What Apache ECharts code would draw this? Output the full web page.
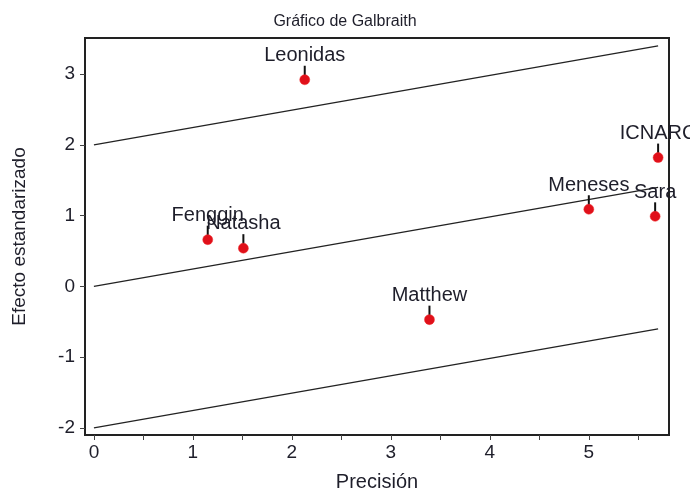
<!DOCTYPE html>
<html><head><meta charset="utf-8">
<script src="https://cdn.jsdelivr.net/npm/echarts@6/dist/echarts.min.js"></script>
<style>html,body{margin:0;padding:0;background:#fff}#c{width:690px;height:488px}</style>
</head><body><div id="c"></div>
<script>
var names = ['Leonidas','Fenggin','Natasha','Matthew','Meneses','Sara','ICNARC'];
var precision = [2.13, 1.15, 1.51, 3.39, 5.00, 5.67, 5.70];
var effect = [2.92, 0.66, 0.54, -0.47, 1.09, 0.99, 1.82];
var lineX = [0, 5.7];
var midLine = [0, 1.4];
var upperLine = [2, 3.4];
var lowerLine = [-2, -0.6];
var xTickLabels = [0, 1, 2, 3, 4, 5];
var xTicks = [0, 0.5, 1, 1.5, 2, 2.5, 3, 3.5, 4, 4.5, 5, 5.5];
var yTickLabels = [-2, -1, 0, 1, 2, 3];

var FONT = 'Liberation Sans, Arial, sans-serif';
var TXT = '#1e1e2a';
var pts = names.map(function(n, i){ return {name: n, value: [precision[i], effect[i]]}; });
function lineData(ys){ return lineX.map(function(x, i){ return [x, ys[i]]; }); }
var lineStyle = {color: '#222', width: 1.3};

var chart = echarts.init(document.getElementById('c'));
chart.setOption({
  animation: false,
  title: {text: 'Gráfico de Galbraith', left: 'center', top: 9,
    textStyle: {fontFamily: FONT, fontSize: 16, fontWeight: 'normal', color: TXT}},
  grid: {left: 85, right: 21, top: 38, bottom: 53, show: true, borderColor: '#222', borderWidth: 2,
    containLabel: false, outerBoundsMode: 'none'},
  xAxis: {type: 'value', min: -0.09, max: 5.81,
    name: 'Precisión', nameLocation: 'middle', nameGap: 37,
    nameTextStyle: {fontFamily: FONT, fontSize: 20, color: TXT},
    axisLine: {show: true, onZero: false, lineStyle: {color: '#222', width: 2}},
    axisTick: {show: true, length: 5, customValues: xTicks, lineStyle: {color: '#444'}},
    axisLabel: {customValues: xTickLabels, fontFamily: FONT, fontSize: 19, color: TXT, margin: 8},
    splitLine: {show: false}},
  yAxis: {type: 'value', min: -2.1, max: 3.51,
    name: 'Efecto estandarizado', nameLocation: 'middle', nameGap: 56,
    nameTextStyle: {fontFamily: FONT, fontSize: 19, color: TXT},
    axisLine: {show: true, onZero: false, lineStyle: {color: '#222', width: 2}},
    axisTick: {show: true, length: 5, customValues: yTickLabels, lineStyle: {color: '#444'}},
    axisLabel: {customValues: yTickLabels, fontFamily: FONT, fontSize: 19, color: TXT, margin: 10},
    splitLine: {show: false}},
  series: [
    {type: 'line', data: lineData(upperLine), showSymbol: false, symbol: 'none', lineStyle: lineStyle, silent: true},
    {type: 'line', data: lineData(midLine), showSymbol: false, symbol: 'none', lineStyle: lineStyle, silent: true},
    {type: 'line', data: lineData(lowerLine), showSymbol: false, symbol: 'none', lineStyle: lineStyle, silent: true},
    {type: 'scatter', data: pts, symbol: 'rect', symbolSize: [2, 12], symbolOffset: [0, -8],
      itemStyle: {color: '#111', opacity: 1}, silent: true, z: 3},
    {type: 'scatter', data: pts, symbolSize: 10, z: 4,
      itemStyle: {color: '#e0101a', opacity: 1, borderColor: '#f03030', borderWidth: 0.5},
      label: {show: true, position: 'top', distance: 9, formatter: '{b}',
        fontFamily: FONT, fontSize: 20, color: TXT}}
  ]
});
</script></body></html>
